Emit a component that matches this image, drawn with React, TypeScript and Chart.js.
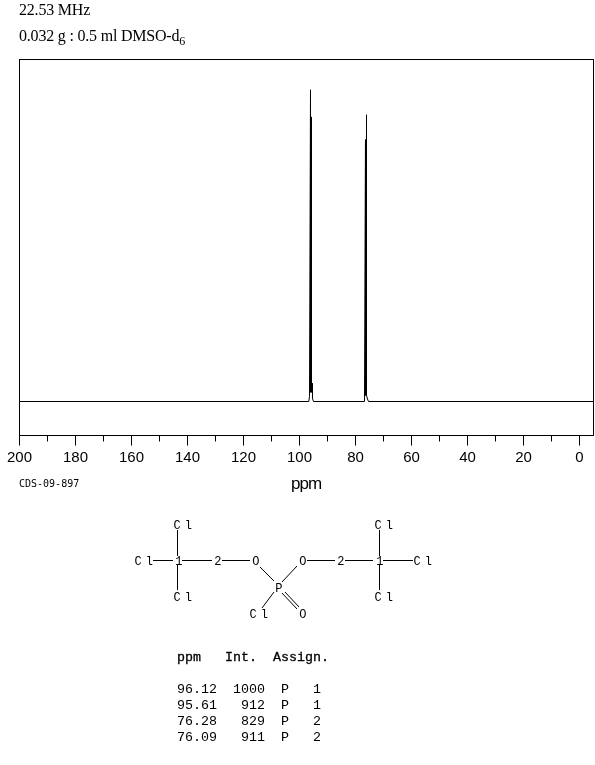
import React, { useEffect, useRef } from "react";
import { Chart, registerables } from "chart.js";

Chart.register(...registerables);

// Spectrum trace
const tracePpm = [200, 96.68, 96.43, 96.07, 96.07, 95.71, 95.71, 95.71, 95.36, 95.36, 95.0, 76.9, 76.79, 76.43, 76.43, 76.07, 76.07, 76.07, 75.71, 75.36, -5];
const traceInt = [0, 0, 16, 1002, 30, 30, 915, 30, 58, 10, 0, 0, 14, 842, 20, 20, 922, 20, 8, 0, 0];

const axisMin = -5;
const axisMax = 200;
const majorStep = 20;
const minorStep = 10;

// Peak table
const tablePpm = ["96.12", "95.61", "76.28", "76.09"];
const tableInt = ["1000", "912", "829", "911"];
const tableAtom = ["P", "P", "P", "P"];
const tableAssign = ["1", "1", "2", "2"];

const frame = {
  id: "frame",
  beforeDraw(chart: any) {
    const { ctx, chartArea: a } = chart;
    ctx.save();
    ctx.strokeStyle = "#000";
    ctx.lineWidth = 1;
    ctx.strokeRect(a.left, a.top, a.right - a.left, a.bottom - a.top);
    ctx.restore();
  },
};

const abs = (x: number, y: number, extra: React.CSSProperties = {}): React.CSSProperties => ({
  position: "absolute",
  left: x,
  top: y,
  margin: 0,
  whiteSpace: "pre",
  color: "#000",
  ...extra,
});

function Molecule() {
  const lines = [
    [153, 560.5, 173, 560.5], [182, 560.5, 212, 560.5], [222, 560.5, 250, 560.5],
    [177.5, 530, 177.5, 556], [177.5, 565, 177.5, 590],
    [260, 567, 274, 581], [297, 566, 282, 582], [274, 592, 262, 608],
    [282, 593, 297, 609], [285, 592, 299, 607],
    [307, 560.5, 335, 560.5], [345, 560.5, 373, 560.5], [383, 560.5, 413, 560.5],
    [379.5, 530, 379.5, 556], [379.5, 565, 379.5, 590],
  ];
  const labels: [string, number, number][] = [
    ["C l", 182, 524], ["C l", 143, 560], ["1", 178, 560], ["2", 217, 560], ["O", 255, 560],
    ["P", 278, 587], ["O", 302, 560], ["2", 340, 560], ["1", 379, 560], ["C l", 422, 560],
    ["C l", 182, 596], ["C l", 383, 524], ["C l", 383, 596], ["C l", 258, 613], ["O", 302, 613],
  ];
  return (
    <svg width={595} height={765} style={{ position: "absolute", left: 0, top: 0, pointerEvents: "none" }}>
      {lines.map((l, i) => (
        <line key={i} x1={l[0]} y1={l[1]} x2={l[2]} y2={l[3]} stroke="#000" strokeWidth={1} />
      ))}
      {labels.map(([t, x, y], i) => (
        <text key={i} x={x} y={y + 4.5} textAnchor="middle" fontFamily="'Liberation Mono'" fontSize={12} xmlSpace="preserve" style={{ whiteSpace: "pre" }} letterSpacing={-1.5}>
          {t}
        </text>
      ))}
    </svg>
  );
}

export default function App() {
  const ref = useRef<HTMLCanvasElement>(null);
  useEffect(() => {
    const chart = new Chart(ref.current!, {
      type: "scatter",
      data: {
        datasets: [
          {
            data: tracePpm.map((x, i) => ({ x, y: traceInt[i] })),
            showLine: true,
            borderColor: "#000",
            borderWidth: 1,
            borderJoinStyle: "bevel",
            pointRadius: 0,
            tension: 0,
            xAxisID: "x",
            yAxisID: "y",
          },
        ],
      },
      options: {
        responsive: false,
        animation: false,
        events: [],
        layout: { padding: { left: 19.5, right: 1.5, top: 59.5, bottom: 269.5 } },
        plugins: { legend: { display: false }, tooltip: { enabled: false }, title: { display: false } },
        scales: {
          x: {
            type: "linear",
            position: "bottom",
            weight: 1,
            reverse: true,
            min: axisMin,
            max: axisMax,
            afterFit: (s: any) => { s.height = 60; },
            afterBuildTicks: (s: any) => { s.ticks = s.ticks.filter((t: any) => t.value >= 0); },
            border: { display: false },
            grid: { display: true, drawOnChartArea: false, drawTicks: true, tickLength: 10, tickColor: "#000", tickWidth: 1 },
            ticks: {
              stepSize: majorStep,
              includeBounds: false,
              autoSkip: false,
              maxRotation: 0,
              padding: 3,
              color: "#000",
              font: { family: "'Liberation Sans'", size: 15 },
            },
          },
          xMinor: {
            type: "linear",
            axis: "x",
            position: "bottom",
            weight: 0,
            reverse: true,
            min: axisMin,
            max: axisMax,
            afterFit: (s: any) => { s.height = 0; },
            afterBuildTicks: (s: any) => { s.ticks = s.ticks.filter((t: any) => t.value >= 0); },
            border: { display: false },
            grid: { display: true, drawOnChartArea: false, drawTicks: true, tickLength: 6, tickColor: "#000", tickWidth: 1 },
            ticks: { stepSize: minorStep, includeBounds: false, autoSkip: false, maxRotation: 0, padding: 0, callback: () => "" },
          },
          y: { type: "linear", display: false, min: -109.3, max: 1099.7 },
        } as any,
      },
      plugins: [frame],
    } as any);
    return () => chart.destroy();
  }, []);

  const serif = "'Liberation Serif'";
  const mono = "'Liberation Mono'";
  const rows = tablePpm.map(
    (p, i) => `${p}  ${tableInt[i].padStart(4, " ")}  ${tableAtom[i]}   ${tableAssign[i]}`
  );

  return (
    <div style={{ position: "absolute", left: 0, top: 0, width: 595, height: 765, overflow: "hidden", background: "#fff" }}>
      <canvas ref={ref} width={595} height={765} style={{ position: "absolute", left: 0, top: 0, display: "block" }} />
      <div style={abs(19, 1, { fontFamily: serif, fontSize: 16, lineHeight: "18px", letterSpacing: -0.2 })}>22.53 MHz</div>
      <div style={abs(19, 27, { fontFamily: serif, fontSize: 16, lineHeight: "18px", letterSpacing: -0.2 })}>
        0.032 g : 0.5 ml DMSO-d<sub style={{ fontSize: 12, lineHeight: 0 }}>6</sub>
      </div>
      <div style={abs(19, 478, { fontFamily: "'DejaVu Sans Mono'", fontSize: 10, lineHeight: "12px" })}>CDS-09-897</div>
      <div style={abs(291, 474, { fontFamily: "'Liberation Sans'", fontSize: 17, lineHeight: "20px", letterSpacing: -0.9 })}>ppm</div>
      <Molecule />
      <div style={abs(177, 650, { fontFamily: mono, fontSize: 13.33, lineHeight: "16px", WebkitTextStroke: "0.3px #000" })}>ppm   Int.  Assign.</div>
      {rows.map((r, i) => (
        <div key={i} style={abs(177, 682 + i * 16, { fontFamily: mono, fontSize: 13.33, lineHeight: "16px" })}>{r}</div>
      ))}
    </div>
  );
}
